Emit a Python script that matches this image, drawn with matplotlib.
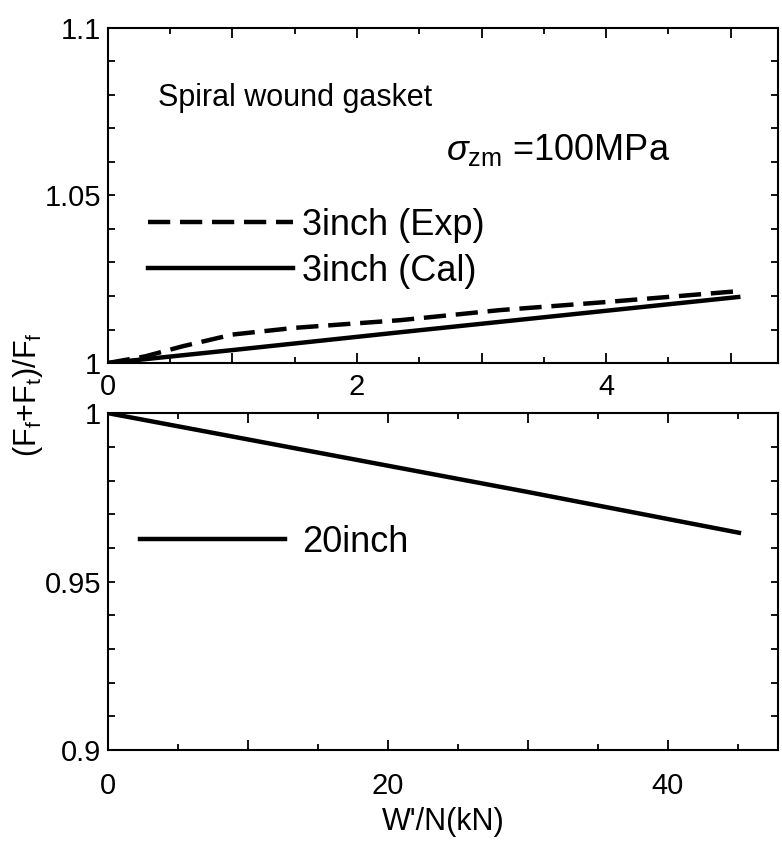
import numpy as np
from matplotlib import pyplot as plt
from matplotlib.ticker import MultipleLocator, FixedLocator, FixedFormatter

# top panel: 3inch gasket, x in W'/N (kN)
exp_x = [0.0, 0.3, 0.6, 1.0, 1.5, 2.35, 3.15, 4.0, 4.98, 5.08]
exp_y = [1.0, 1.002, 1.005, 1.0085, 1.0105, 1.0128, 1.0158, 1.0182, 1.0212, 1.0215]
cal_x = [0.0, 1.06, 2.35, 3.15, 5.06]
cal_y = [1.0, 1.0041, 1.0092, 1.0123, 1.0197]

# bottom panel: 20inch gasket
big_x = [0.0, 10.0, 20.0, 30.0, 45.1]
big_y = [1.0, 0.9922, 0.9844, 0.9766, 0.9645]

top_ylabels = ["1", "", "", "", "", "1.05", "", "", "", "", "1.1"]
bot_ylabels = ["0.9", "", "", "", "", "0.95", "", "", "", "", "1"]

FONT = 'Liberation Sans'
plt.rcParams['font.family'] = [FONT, 'DejaVu Sans']
plt.rcParams['mathtext.fontset'] = 'custom'
plt.rcParams['mathtext.rm'] = FONT
plt.rcParams['mathtext.it'] = FONT + ':italic'
plt.rcParams['font.size'] = 22
plt.rcParams['xtick.labelsize'] = 21
plt.rcParams['ytick.labelsize'] = 21


def style(ax):
    for s in ax.spines.values():
        s.set_linewidth(1.5)
    ax.tick_params(which='both', direction='in', top=True, right=True, width=1.3)
    ax.tick_params(which='major', length=7)
    ax.tick_params(which='minor', length=4)
    ax.tick_params(axis='y', which='major', length=5, pad=5)


fig = plt.figure(figsize=(7.82, 8.55), dpi=100)
ax1 = fig.add_axes([0.138, 0.5754, 0.857, 0.392])
ax2 = fig.add_axes([0.138, 0.1228, 0.857, 0.394])

ax1.plot(exp_x, exp_y, color='black', lw=3.2, ls=(0, (5, 2.2)), label='3inch (Exp)')
ax1.plot(cal_x, cal_y, color='black', lw=3.2, label='3inch (Cal)')
ax1.set_xlim(0, 5.38)
ax1.set_ylim(1.0, 1.1)
ax1.xaxis.set_major_locator(FixedLocator([0, 1, 2, 3, 4, 5]))
ax1.xaxis.set_major_formatter(FixedFormatter(["0", "", "2", "", "4", ""]))
ax1.xaxis.set_minor_locator(MultipleLocator(0.5))
yt = np.linspace(1.0, 1.1, 11)
ax1.yaxis.set_major_locator(FixedLocator(yt))
ax1.yaxis.set_major_formatter(FixedFormatter(top_ylabels))
style(ax1)
ax1.tick_params(axis='x', which='major', pad=7)
ax1.text(0.0746, 0.79, "Spiral wound gasket", transform=ax1.transAxes, va='center')
ax1.text(0.505, 0.636, r"$\mathit{\sigma}_{\mathrm{zm}}$ =100MPa", transform=ax1.transAxes,
         va='center', fontsize=26)
ax1.legend(loc='upper left', bbox_to_anchor=(0.06, 0.464), frameon=False, fontsize=26,
           handlelength=4.0, handletextpad=0.25, labelspacing=0.32,
           borderaxespad=0, borderpad=0)

ax2.plot(big_x, big_y, color='black', lw=3.2, label='20inch')
ax2.set_xlim(0, 47.9)
ax2.set_ylim(0.9, 1.0)
ax2.xaxis.set_major_locator(FixedLocator([0, 10, 20, 30, 40]))
ax2.xaxis.set_major_formatter(FixedFormatter(["0", "", "20", "", "40"]))
ax2.xaxis.set_minor_locator(MultipleLocator(5))
yb = np.linspace(0.9, 1.0, 11)
ax2.yaxis.set_major_locator(FixedLocator(yb))
ax2.yaxis.set_major_formatter(FixedFormatter(bot_ylabels))
style(ax2)
ax2.tick_params(axis='x', which='major', pad=16)
ax2.set_xlabel("W'/N(kN)", labelpad=5)
ax2.legend(loc='upper left', bbox_to_anchor=(0.048, 0.669), frameon=False, fontsize=26,
           handlelength=4.0, handletextpad=0.5, borderaxespad=0, borderpad=0)

fig.text(0.036, 0.538, r"(F$_\mathrm{f}$+F$_\mathrm{t}$)/F$_\mathrm{f}$",
         rotation=90, ha='center', va='center')

fig.savefig("out.png", dpi=100)
